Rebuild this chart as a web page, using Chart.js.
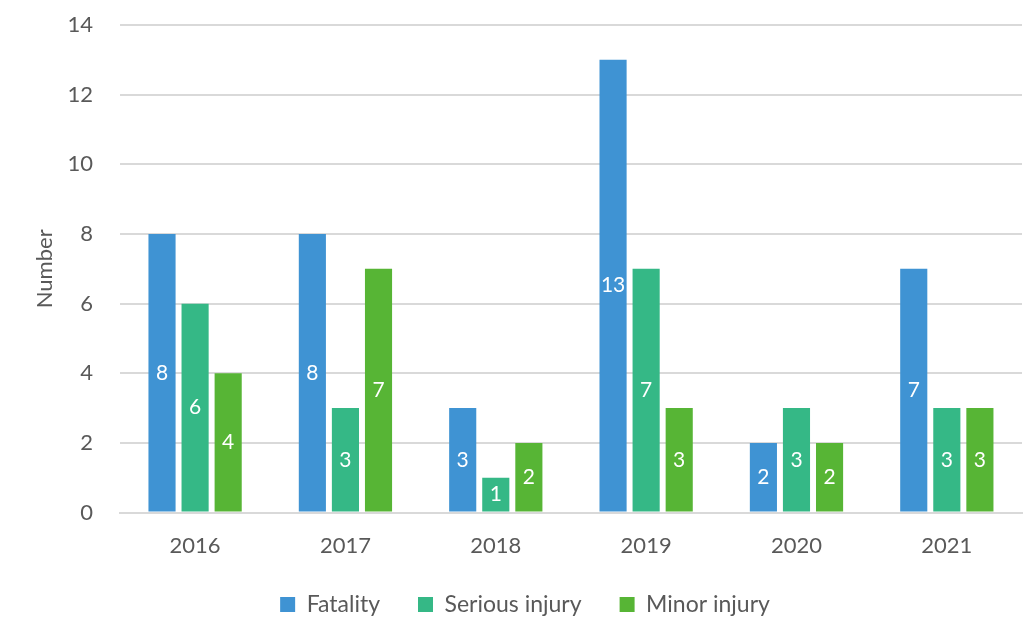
<!DOCTYPE html>
<html>
<head>
<meta charset="utf-8">
<script src="https://cdn.jsdelivr.net/npm/chart.js@4"></script>
<style>
  html, body { margin: 0; padding: 0; background: #fff; }
</style>
</head>
<body>
<canvas id="chart" width="1025" height="620"></canvas>
<script>
const years = ['2016', '2017', '2018', '2019', '2020', '2021']
const fatality = [8, 8, 3, 13, 2, 7]
const serious = [6, 3, 1, 7, 3, 3]
const minor = [4, 7, 2, 3, 2, 3]

const textColor = '#595959'
const fontFamily = 'Lato, "Noto Sans", sans-serif'

// draws the value in the middle of each bar
const barLabels = {
    id: 'barLabels',
    afterDatasetsDraw(chart) {
        const ctx = chart.ctx
        ctx.save()
        ctx.fillStyle = '#ffffff'
        ctx.font = '21px ' + fontFamily
        ctx.textAlign = 'center'
        ctx.textBaseline = 'middle'
        chart.data.datasets.forEach((ds, i) => {
            chart.getDatasetMeta(i).data.forEach((bar, j) => {
                const mid = (bar.y + bar.base) / 2
                ctx.fillText(ds.data[j], bar.x, mid)
            })
        })
        ctx.restore()
    }
}

// trims the legend box so it sits closer to the bottom edge
const legendTrim = {
    id: 'legendTrim',
    beforeInit(chart) {
        const fit = chart.legend.fit
        chart.legend.fit = function () {
            fit.call(this)
            this.height -= 6
        }
    }
}

const ctx = document.getElementById('chart').getContext('2d')
new Chart(ctx, {
    type: 'bar',
    plugins: [barLabels, legendTrim],
    data: {
        labels: years,
        datasets: [
            { label: 'Fatality', data: fatality, backgroundColor: '#3f93d3' },
            { label: 'Serious injury', data: serious, backgroundColor: '#35b886' },
            { label: 'Minor injury', data: minor, backgroundColor: '#57b535' }
        ]
    },
    options: {
        responsive: false,
        animation: false,
        datasets: {
            bar: { categoryPercentage: 0.66, barPercentage: 0.82 }
        },
        layout: { padding: { top: 0, right: 3, left: 28, bottom: 0 } },
        scales: {
            x: {
                grid: { display: false, drawTicks: false },
                border: { color: '#d9d9d9', width: 2 },
                ticks: { color: textColor, font: { size: 22, family: fontFamily }, padding: 20 },
                afterFit(scale) {
                    scale.height -= 24
                }
            },
            y: {
                min: 0,
                max: 14,
                ticks: { stepSize: 2, color: textColor, font: { size: 22, family: fontFamily }, padding: 27 },
                grid: { color: '#d9d9d9', lineWidth: 2, drawTicks: false },
                border: { display: false },
                title: {
                    display: true,
                    text: 'Number',
                    color: textColor,
                    font: { size: 22, family: fontFamily },
                    padding: { top: 4, bottom: 10 }
                },
                afterFit(scale) {
                    scale.width -= 28
                    scale.paddingTop = 25
                }
            }
        },
        plugins: {
            legend: {
                position: 'bottom',
                labels: {
                    color: textColor,
                    font: { size: 23, family: fontFamily },
                    boxWidth: 15,
                    boxHeight: 15,
                    padding: 38
                }
            },
            tooltip: { enabled: false }
        }
    }
})
</script>
</body>
</html>
